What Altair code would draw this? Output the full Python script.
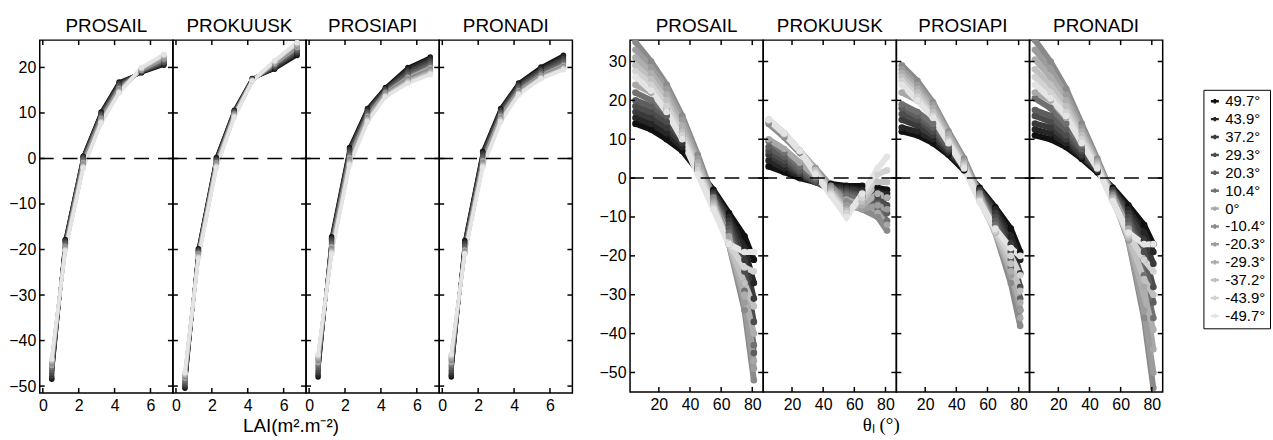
import altair as alt
import pandas as pd

# ---------------- data ----------------
ANGLES = ["49.7°", "43.9°", "37.2°", "29.3°", "20.3°", "10.4°", "0°",
          "-10.4°", "-20.3°", "-29.3°", "-37.2°", "-43.9°", "-49.7°"]
GRAYS = ["#111111", "#262626", "#3a3a3a", "#4c4c4c", "#5e5e5e", "#707070", "#a8a8a8",
         "#8a8a8a", "#9c9c9c", "#aeaeae", "#c0c0c0", "#d2d2d2", "#e4e4e4"]
MODELS = ["PROSAIL", "PROKUUSK", "PROSIAPI", "PRONADI"]

LAI = [0.5, 1.25, 2.25, 3.25, 4.25, 5.5, 6.75]
THETA = [5, 15, 25, 35, 45, 55, 65, 75, 81]

LAI_TICKS = [0, 2, 4, 6]
LAI_YTICKS = [-50, -40, -30, -20, -10, 0, 10, 20]
TH_TICKS = [20, 40, 60, 80]
TH_YTICKS = [-50, -40, -30, -20, -10, 0, 10, 20, 30]

LAI_PROSAIL = [
    [-48.5, -17.8, 0.5, 10.2, 16.8, 18.8, 20.5],
    [-48.2, -18.0, 0.4, 10.0, 16.6, 18.9, 20.7],
    [-47.8, -18.2, 0.2, 9.8, 16.4, 19.0, 20.9],
    [-47.2, -18.5, 0.0, 9.6, 16.1, 19.1, 21.1],
    [-46.6, -18.8, -0.3, 9.3, 15.8, 19.2, 21.4],
    [-46.0, -19.1, -0.6, 9.0, 15.6, 19.3, 21.6],
    [-45.5, -19.4, -0.9, 8.8, 15.3, 19.4, 21.9],
    [-45.1, -19.6, -1.2, 8.6, 15.1, 19.5, 22.1],
    [-44.8, -19.8, -1.5, 8.4, 14.9, 19.6, 22.3],
    [-44.5, -20.0, -1.7, 8.2, 14.7, 19.7, 22.5],
    [-44.3, -20.1, -1.9, 8.0, 14.6, 19.8, 22.6],
    [-44.1, -20.2, -2.0, 7.9, 14.5, 19.9, 22.8],
    [-44.0, -20.3, -2.1, 7.8, 14.4, 20.0, 22.9],
]
LAI_PROKUUSK = [
    [-50.5, -19.8, 0.2, 10.6, 17.6, 19.6, 22.6],
    [-50.2, -20.0, 0.0, 10.5, 17.5, 19.8, 22.9],
    [-49.9, -20.2, -0.2, 10.3, 17.4, 20.0, 23.2],
    [-49.5, -20.4, -0.4, 10.2, 17.3, 20.2, 23.5],
    [-49.1, -20.6, -0.6, 10.0, 17.3, 20.4, 23.8],
    [-48.7, -20.8, -0.8, 9.9, 17.2, 20.6, 24.1],
    [-48.3, -21.0, -1.0, 9.7, 17.2, 20.8, 24.4],
    [-48.0, -21.2, -1.2, 9.6, 17.1, 21.0, 24.7],
    [-47.7, -21.4, -1.4, 9.5, 17.1, 21.1, 24.9],
    [-47.5, -21.6, -1.6, 9.4, 17.0, 21.2, 25.1],
    [-47.3, -21.7, -1.7, 9.3, 17.0, 21.3, 25.3],
    [-47.1, -21.8, -1.9, 9.2, 17.0, 21.4, 25.4],
    [-47.0, -22.0, -2.0, 9.0, 17.0, 21.5, 25.5],
]
LAI_PROSIAPI = [
    [-48.0, -17.2, 2.4, 11.0, 15.6, 20.0, 22.3],
    [-47.6, -17.5, 2.1, 10.8, 15.4, 19.7, 22.0],
    [-47.1, -17.8, 1.8, 10.5, 15.2, 19.3, 21.6],
    [-46.6, -18.2, 1.4, 10.2, 15.0, 18.9, 21.2],
    [-46.0, -18.6, 1.0, 9.9, 14.8, 18.5, 20.8],
    [-45.4, -19.0, 0.6, 9.6, 14.6, 18.1, 20.4],
    [-44.9, -19.4, 0.2, 9.3, 14.4, 17.8, 20.0],
    [-44.4, -19.8, -0.2, 9.0, 14.2, 17.5, 19.6],
    [-44.0, -20.1, -0.5, 8.8, 14.0, 17.2, 19.3],
    [-43.7, -20.4, -0.8, 8.6, 13.9, 17.0, 19.0],
    [-43.4, -20.6, -1.1, 8.4, 13.7, 16.8, 18.8],
    [-43.2, -20.8, -1.3, 8.2, 13.6, 16.6, 18.6],
    [-43.0, -21.0, -1.5, 8.0, 13.5, 16.5, 18.4],
]
LAI_PRONADI = [
    [-48.0, -18.0, 1.6, 11.0, 16.6, 20.1, 22.7],
    [-47.6, -18.3, 1.3, 10.8, 16.4, 19.8, 22.4],
    [-47.1, -18.6, 1.0, 10.5, 16.1, 19.5, 22.0],
    [-46.6, -19.0, 0.6, 10.2, 15.8, 19.2, 21.6],
    [-46.0, -19.4, 0.2, 9.9, 15.5, 18.9, 21.2],
    [-45.4, -19.8, -0.2, 9.6, 15.2, 18.6, 20.8],
    [-44.9, -20.1, -0.5, 9.3, 14.9, 18.3, 20.5],
    [-44.4, -20.4, -0.8, 9.0, 14.7, 18.1, 20.2],
    [-44.0, -20.6, -1.1, 8.8, 14.5, 17.9, 20.0],
    [-43.6, -20.8, -1.4, 8.6, 14.3, 17.8, 19.8],
    [-43.3, -20.9, -1.6, 8.4, 14.2, 17.7, 19.7],
    [-43.1, -21.0, -1.8, 8.2, 14.1, 17.6, 19.6],
    [-43.0, -21.0, -2.0, 8.0, 14.0, 17.5, 19.5],
]

TH_PROSAIL = [
    [14.0, 12.5, 10.0, 7.0, 2.0, -3.0, -9.0, -15.0, -21.0],
    [15.5, 14.0, 11.5, 8.0, 2.5, -3.5, -10.0, -18.0, -27.0],
    [17.0, 15.5, 13.0, 9.0, 3.0, -4.0, -11.0, -21.0, -31.0],
    [18.5, 17.0, 14.5, 10.0, 3.0, -4.5, -12.0, -24.0, -37.0],
    [20.0, 18.5, 16.0, 11.0, 3.5, -5.0, -13.0, -27.0, -45.0],
    [22.0, 20.0, 17.0, 12.0, 4.0, -5.5, -14.0, -29.0, -43.0],
    [24.0, 22.0, 18.0, 12.5, 4.0, -6.0, -15.0, -30.0, -47.0],
    [35.0, 30.0, 24.0, 16.0, 6.0, -5.0, -17.0, -34.0, -52.0],
    [33.0, 28.5, 23.0, 15.0, 5.0, -6.0, -17.0, -32.0, -49.0],
    [31.0, 27.0, 21.5, 13.5, 4.0, -6.5, -17.0, -30.0, -40.0],
    [29.0, 25.5, 20.0, 12.0, 3.0, -7.0, -17.0, -27.0, -33.0],
    [27.5, 24.0, 18.5, 11.0, 2.0, -7.5, -17.0, -23.0, -24.0],
    [26.0, 22.5, 17.0, 10.0, 1.0, -8.0, -17.0, -19.0, -19.0],
]
TH_PROKUUSK = [
    [3.0, 1.5, 0.0, -1.0, -1.5, -2.0, -2.0, -2.5, -3.0],
    [4.5, 2.5, 0.5, -1.0, -2.0, -2.5, -3.0, -3.5, -4.0],
    [6.0, 3.5, 1.0, -1.0, -2.5, -3.0, -3.5, -4.5, -5.0],
    [7.0, 4.5, 1.5, -1.0, -3.0, -3.5, -4.5, -5.5, -7.0],
    [8.0, 5.5, 2.0, -0.5, -3.0, -4.0, -5.0, -6.5, -9.0],
    [9.5, 6.5, 3.0, 0.0, -3.0, -4.5, -6.0, -8.0, -11.0],
    [10.0, 7.5, 4.0, 0.5, -3.0, -5.5, -7.0, -9.0, -12.0],
    [14.0, 10.5, 6.5, 2.5, -2.0, -6.0, -8.0, -10.0, -13.5],
    [14.5, 11.0, 7.0, 2.5, -2.5, -7.0, -8.0, -7.0, -8.0],
    [15.0, 11.5, 7.0, 2.0, -3.0, -8.0, -7.0, -4.0, -5.0],
    [15.0, 11.5, 7.0, 2.0, -3.5, -8.5, -6.0, -1.0, -1.0],
    [15.0, 11.5, 7.0, 1.5, -4.0, -9.0, -5.0, 1.0, 2.0],
    [15.0, 11.5, 7.0, 1.0, -4.5, -10.0, -4.0, 2.5, 5.5],
]
TH_PROSIAPI = [
    [12.0, 11.0, 9.0, 6.0, 2.0, -2.5, -7.5, -13.0, -19.0],
    [13.0, 12.0, 10.0, 6.5, 2.5, -3.0, -8.0, -15.0, -21.0],
    [15.0, 13.5, 11.0, 7.0, 3.0, -3.0, -9.0, -17.0, -24.5],
    [16.5, 15.0, 12.0, 7.5, 3.0, -3.5, -10.0, -19.0, -28.0],
    [18.0, 16.0, 13.0, 8.0, 3.5, -4.0, -11.0, -21.0, -31.0],
    [19.0, 17.0, 14.0, 9.0, 4.0, -4.0, -12.0, -23.0, -34.0],
    [22.0, 20.0, 16.0, 10.0, 4.0, -4.5, -13.0, -25.0, -36.0],
    [29.0, 25.0, 19.5, 12.0, 5.0, -4.0, -14.0, -27.0, -38.0],
    [28.0, 24.0, 19.0, 11.5, 4.5, -4.5, -14.0, -25.0, -34.0],
    [27.0, 23.0, 18.0, 11.0, 4.0, -5.0, -14.0, -24.0, -32.0],
    [26.0, 22.0, 17.0, 10.0, 3.5, -5.5, -14.0, -22.0, -29.0],
    [25.0, 21.0, 16.0, 9.5, 3.0, -6.0, -13.5, -20.0, -25.0],
    [24.0, 20.0, 15.5, 9.0, 2.5, -6.0, -13.0, -18.0, -20.0],
]
TH_PRONADI = [
    [11.0, 10.0, 8.0, 5.0, 1.5, -2.5, -7.0, -12.0, -17.0],
    [12.5, 11.5, 9.0, 5.5, 2.0, -3.0, -8.0, -14.0, -19.0],
    [14.0, 13.0, 10.0, 6.0, 2.0, -3.0, -9.0, -16.0, -22.0],
    [16.0, 14.5, 11.0, 7.0, 2.5, -3.5, -10.0, -19.0, -28.0],
    [17.5, 16.0, 12.5, 7.5, 3.0, -4.0, -11.0, -21.0, -32.0],
    [20.5, 18.0, 14.0, 8.5, 3.5, -4.0, -12.0, -25.0, -36.0],
    [22.0, 20.0, 15.5, 9.5, 4.0, -4.5, -13.0, -28.0, -44.0],
    [35.5, 30.0, 23.0, 14.0, 5.0, -4.5, -16.0, -36.0, -54.0],
    [33.0, 28.0, 21.5, 13.0, 4.5, -5.0, -16.0, -34.0, -50.0],
    [30.5, 26.0, 20.0, 12.0, 4.0, -5.0, -15.5, -30.0, -39.0],
    [28.0, 24.0, 18.5, 11.0, 3.5, -5.5, -15.0, -26.0, -30.0],
    [26.0, 22.0, 17.0, 10.0, 3.0, -6.0, -14.5, -21.0, -24.0],
    [24.0, 20.5, 16.0, 9.0, 2.5, -6.0, -14.0, -17.0, -17.0],
]

LEFT_TABLES = [LAI_PROSAIL, LAI_PROKUUSK, LAI_PROSIAPI, LAI_PRONADI]
RIGHT_TABLES = [TH_PROSAIL, TH_PROKUUSK, TH_PROSIAPI, TH_PRONADI]

FONT = "Liberation Sans"


def to_df(xs, table):
    rows = []
    for k, (ang, ys) in enumerate(zip(ANGLES, table)):
        for x, y in zip(xs, ys):
            rows.append({"x": x, "y": y, "angle": ang, "k": k})
    return pd.DataFrame(rows)


LEGEND = alt.Legend(
    title=None, orient="none", legendX=1171, legendY=50,
    strokeColor="black", padding=4, cornerRadius=0,
    labelFont=FONT, labelFontSize=15, labelColor="black",
    symbolType="M-1,0H1M0,-0.55V0.55", symbolSize=64, symbolStrokeWidth=2.5,
    rowPadding=2, labelOffset=3,
)


def panel(df, name, xdom, ydom, xvals, yvals, show_y, w, h, lw, ps):
    sx = alt.Scale(domain=xdom, nice=False, zero=False)
    sy = alt.Scale(domain=ydom, nice=False, zero=False)
    color_scale = alt.Scale(domain=ANGLES, range=GRAYS)
    ax_x = alt.Axis(values=xvals, ticks=False, domain=False, grid=False, title=None,
                    labelFont=FONT, labelFontSize=16, labelColor="black", labelPadding=5,
                    labelFlush=False)
    if show_y:
        ax_y = alt.Axis(values=yvals, ticks=False, domain=False, grid=False, title=None,
                        labelFont=FONT, labelFontSize=16, labelColor="black",
                        labelPadding=4)
    else:
        ax_y = None
    base = alt.Chart(df)
    lines = base.mark_line(strokeWidth=lw, clip=True).encode(
        x=alt.X("x:Q", scale=sx, axis=ax_x),
        y=alt.Y("y:Q", scale=sy, axis=ax_y),
        color=alt.Color("angle:N", scale=color_scale, sort=ANGLES, legend=LEGEND),
    )
    pts = base.mark_circle(size=ps, opacity=1, clip=True).encode(
        x=alt.X("x:Q", scale=sx),
        y=alt.Y("y:Q", scale=sy),
        color=alt.Color("angle:N", scale=color_scale, sort=ANGLES, legend=None),
        order=alt.Order("k:Q"),
    )
    zero = alt.Chart(pd.DataFrame({"z": [0]})).mark_rule(
        color="black", strokeWidth=1.5, strokeDash=[15, 9]
    ).encode(y=alt.Y("z:Q", scale=sy))

    ydf = pd.DataFrame({"v": yvals})
    xdf = pd.DataFrame({"v": xvals})
    tick_style = dict(color="black", thickness=1.5, size=5, opacity=1)
    yt_left = alt.Chart(ydf).mark_tick(orient="horizontal", **tick_style).encode(
        y=alt.Y("v:Q", scale=sy), x=alt.value(2.5))
    yt_right = alt.Chart(ydf).mark_tick(orient="horizontal", **tick_style).encode(
        y=alt.Y("v:Q", scale=sy), x=alt.value(w - 2.5))
    xt_bot = alt.Chart(xdf).mark_tick(orient="vertical", **tick_style).encode(
        x=alt.X("v:Q", scale=sx), y=alt.value(h - 2.5))
    xt_top = alt.Chart(xdf).mark_tick(orient="vertical", **tick_style).encode(
        x=alt.X("v:Q", scale=sx), y=alt.value(2.5))

    return alt.layer(lines, pts, zero, yt_left, yt_right, xt_bot, xt_top).properties(
        width=w, height=h,
        title=alt.TitleParams(name, font=FONT, fontSize=19, fontWeight="normal",
                              color="black", offset=4),
    )


left_panels = [
    panel(to_df(LAI, t), m, [-0.17, 7.25], [-51.5, 26], LAI_TICKS, LAI_YTICKS,
          i == 0, 134, 355, 3.5, 30)
    for i, (m, t) in enumerate(zip(MODELS, LEFT_TABLES))
]
right_panels = [
    panel(to_df(THETA, t), m, [1.5, 87], [-55, 35.5], TH_TICKS, TH_YTICKS,
          i == 0, 134, 354, 6, 45)
    for i, (m, t) in enumerate(zip(MODELS, RIGHT_TABLES))
]

left = alt.hconcat(*left_panels, spacing=0, bounds="flush").properties(
    title=alt.TitleParams("LAI(m².m⁻²)", orient="bottom", anchor="middle",
                          font=FONT, fontSize=19, fontWeight="normal", color="black", offset=3)
)
right = alt.hconcat(*right_panels, spacing=0, bounds="flush").properties(
    title=alt.TitleParams("θₗ (°)", orient="bottom", anchor="middle",
                          font="Liberation Serif", fontSize=19, fontWeight="normal",
                          color="black", offset=3)
)

chart = alt.hconcat(left, right, spacing=24).properties(
    padding={"left": 8, "top": 15, "right": 2, "bottom": 0}
).configure_view(stroke="black", strokeWidth=1.5).configure_concat(spacing=0)

chart.save("out.html", embed_options={"renderer": "svg", "actions": False})
